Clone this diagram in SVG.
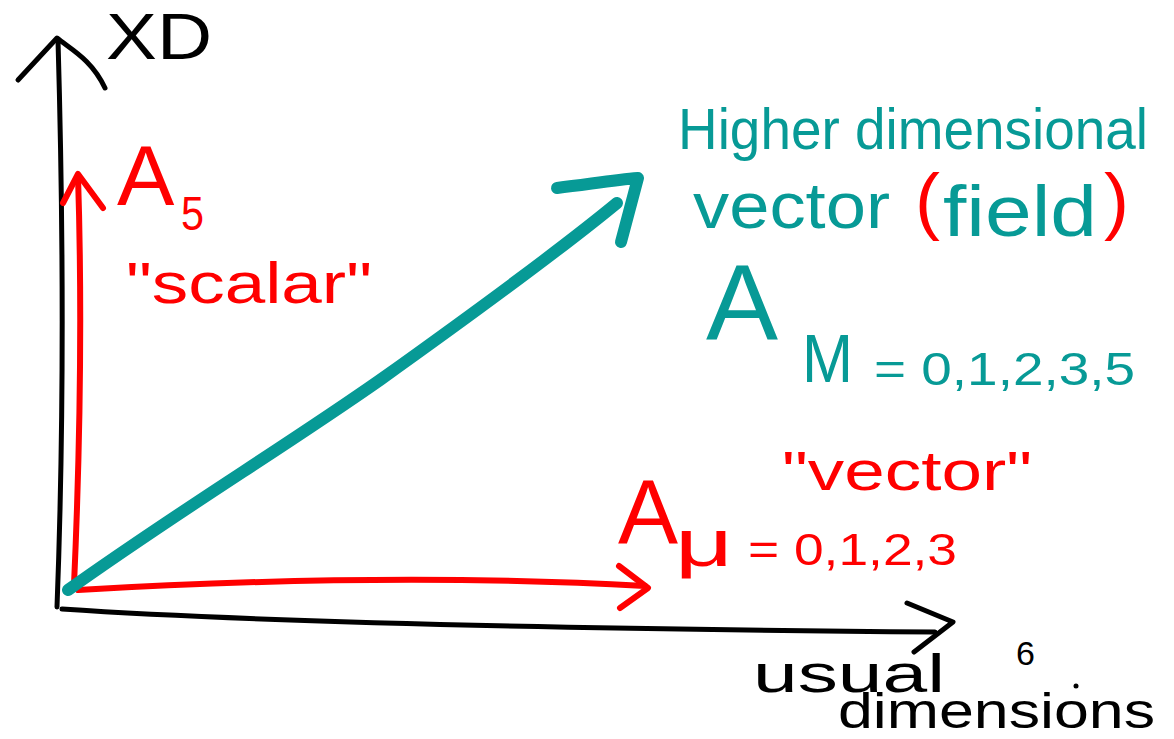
<svg xmlns="http://www.w3.org/2000/svg" width="1174" height="739" viewBox="0 0 1174 739">
<style>
.k{fill:none;stroke:#000;stroke-width:5;stroke-linecap:round;stroke-linejoin:round}
.r{fill:none;stroke:#ff0000;stroke-width:6;stroke-linecap:round;stroke-linejoin:round}
.t{fill:none;stroke:#079a96;stroke-width:12;stroke-linecap:round;stroke-linejoin:round}
text{font-family:"Liberation Sans","DejaVu Sans",sans-serif}
.tk{fill:#000}.tr{fill:#ff0000}.tt{fill:#079a96}
</style>
<rect width="1174" height="739" fill="#fff"/>
<g id="connectors">
<g id="axis-xd"><path class="k" d="M57,607 C63,450 64,250 58,40"/><path class="k" d="M18,80 L57,38 C72,50 92,60 105,88"/></g>
<g id="axis-usual"><path class="k" d="M62,609 C300,625 700,630 935,632"/><path class="k" d="M907,603 L953,622 L914,652"/></g>
<g id="arrow-a5"><path class="r" d="M74,585 C80,450 82,300 78,176"/><path class="r" d="M63,203 L78,174 L103,208"/></g>
<g id="arrow-amu"><path class="r" d="M78,590 C250,580 450,575 645,586"/><path class="r" d="M619,566 L648,588 L620,608"/></g>
<g id="arrow-aM"><path class="t" d="M68,590 C180,510 280,450 380,380 C450,330 560,250 617,203"/><path class="t" stroke-width="14" d="M557,188 C590,184 615,180 638,178 L621,242"/></g>
</g>
<g id="label-xd"><text class="tk" x="106" y="59" font-size="64" textLength="106" lengthAdjust="spacingAndGlyphs">XD</text></g>
<g id="label-a5"><text class="tr" x="117" y="205" font-size="86">A</text><text class="tr" x="181" y="230" font-size="48" textLength="23" lengthAdjust="spacingAndGlyphs">5</text></g>
<g id="label-scalar"><text class="tr" x="126" y="303" font-size="58" textLength="246" lengthAdjust="spacingAndGlyphs">"scalar"</text></g>
<g id="label-higher"><text class="tt" x="678" y="149" font-size="58" textLength="470" lengthAdjust="spacingAndGlyphs">Higher dimensional</text></g>
<g id="label-vectorfield">
<text class="tt" x="693" y="228" font-size="64" textLength="197" lengthAdjust="spacingAndGlyphs">vector</text>
<text class="tr" x="915" y="226" font-size="75">(</text>
<text class="tt" x="943" y="236" font-size="72" textLength="154" lengthAdjust="spacingAndGlyphs">field</text>
<text class="tr" x="1104" y="226" font-size="75">)</text>
</g>
<g id="label-aM"><text class="tt" x="706" y="340" font-size="108">A</text><text class="tt" x="802" y="382" font-size="68" textLength="51" lengthAdjust="spacingAndGlyphs">M</text><text class="tt" x="874" y="385" font-size="46" textLength="261" lengthAdjust="spacingAndGlyphs">= 0,1,2,3,5</text></g>
<g id="label-vector"><text class="tr" x="782" y="490" font-size="56" textLength="250" lengthAdjust="spacingAndGlyphs">"vector"</text></g>
<g id="label-amu"><text class="tr" x="618" y="543" font-size="90">A</text><text class="tr" x="675" y="566" font-size="66" textLength="58" lengthAdjust="spacingAndGlyphs">μ</text><text class="tr" x="748" y="565" font-size="44" textLength="209" lengthAdjust="spacingAndGlyphs">= 0,1,2,3</text></g>
<g id="label-usual"><text class="tk" x="753" y="692" font-size="54" textLength="192" lengthAdjust="spacingAndGlyphs">usual</text><text class="tk" x="838" y="728" font-size="50" textLength="317" lengthAdjust="spacingAndGlyphs">dimensions</text></g>
<g id="label-6"><text class="tk" x="1016" y="665" font-size="34">6</text><circle cx="1076" cy="686" r="2.5" fill="#000"/></g>
</svg>
